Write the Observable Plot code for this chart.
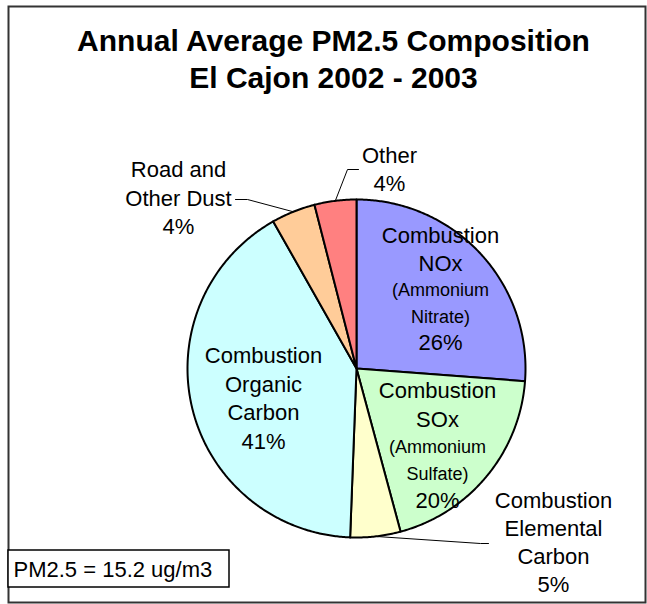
<!DOCTYPE html>
<html><head><meta charset="utf-8">
<script src="https://cdn.jsdelivr.net/npm/d3@7"></script>
<script src="https://cdn.jsdelivr.net/npm/@observablehq/plot@0.6"></script>
<style>
html,body{margin:0;padding:0;background:#fff}
#chart{width:647px;height:604px}
</style>
</head><body><div id="chart"></div>
<script>
// ---- data ----
const categories = ["Combustion NOx", "Combustion SOx", "Combustion Elemental Carbon", "Combustion Organic Carbon", "Road and Other Dust", "Other"];
const shares = [26.2, 19.6, 4.8, 41.2, 4.2, 4.0];
const percentLabels = ["26%", "20%", "5%", "41%", "4%", "4%"];
const sliceColors = ["#9999FF", "#CCFFCC", "#FFFFCC", "#CCFFFF", "#FFCC99", "#FF8080"];
const labelTexts = [
  ["Combustion", "NOx", "(Ammonium", "Nitrate)"],
  ["Combustion", "SOx", "(Ammonium", "Sulfate)"],
  ["Combustion", "Elemental", "Carbon"],
  ["Combustion", "Organic", "Carbon"],
  ["Road and", "Other Dust"],
  ["Other"]
];
const titleLines = ["Annual Average PM2.5 Composition", "El Cajon 2002 - 2003"];
const noteText = "PM2.5 = 15.2 ug/m3";

// ---- layout (pixels) ----
const W = 647, H = 604, CX = 356, CY = 368, R = 169;
const ux = px => (px - CX) / R;
const uy = py => (CY - py) / R;
const labelLayout = [
  {cx: 440, base: 242, offsets: [0, 28, 53, 80, 107], sizes: [22, 22, 18, 18, 22]},
  {cx: 437, base: 397, offsets: [0, 29, 55, 82, 110], sizes: [22, 22, 18, 18, 22]},
  {cx: 553, base: 507, offsets: [0, 28, 56, 84], sizes: [22, 22, 22, 22]},
  {cx: 263, base: 362, offsets: [0, 29, 57, 86], sizes: [22, 22, 22, 22]},
  {cx: 178, base: 176, offsets: [0, 29, 57], sizes: [22, 22, 22]},
  {cx: 389, base: 162, offsets: [0, 28], sizes: [22, 22]}
];
// leader lines: text-side points (pixels); final point is on the slice edge at mid-angle
const leaderLayout = [
  {slice: 2, pts: [[488, 543], [480, 543]]},
  {slice: 4, pts: [[235, 199], [247, 199]]},
  {slice: 5, pts: [[358, 169], [347, 169]]}
];

// ---- geometry ----
const rows = categories.map((name, i) => ({name, share: shares[i], color: sliceColors[i]}));
const arcs = d3.pie().sort(null).value(d => d.share)(rows);
const wedgePts = [];
arcs.forEach(a => {
  const name = a.data.name;
  wedgePts.push({name, x: 0, y: 0});
  const n = Math.max(2, Math.ceil((a.endAngle - a.startAngle) / (Math.PI / 360)));
  for (let k = 0; k <= n; k++) {
    const t = a.startAngle + (a.endAngle - a.startAngle) * k / n;
    wedgePts.push({name, x: Math.sin(t), y: Math.cos(t)});
  }
  wedgePts.push({name, x: 0, y: 0});
});

const leaderPts = [];
leaderLayout.forEach((L, j) => {
  L.pts.forEach(p => leaderPts.push({id: j, x: ux(p[0]), y: uy(p[1])}));
  const a = arcs[L.slice];
  const m = (a.startAngle + a.endAngle) / 2;
  leaderPts.push({id: j, x: Math.sin(m), y: Math.cos(m)});
});

const textRows = [];
labelLayout.forEach((L, i) => {
  const lines = [...labelTexts[i], percentLabels[i]];
  lines.forEach((t, k) => textRows.push({text: t, x: ux(L.cx), y: uy(L.base + L.offsets[k]), size: L.sizes[k]}));
});
const titleRows = titleLines.map((t, k) => ({text: t, x: ux(333), y: uy([50, 87][k])}));

const chart = Plot.plot({
  width: W, height: H,
  marginTop: 0, marginRight: 0, marginBottom: 0, marginLeft: 0,
  x: {domain: [ux(0), ux(W)], range: [0, W], axis: null},
  y: {domain: [uy(H), uy(0)], range: [H, 0], axis: null},
  color: {domain: categories, range: sliceColors},
  style: {fontFamily: "'Liberation Sans', Arial, sans-serif", background: "#fff", color: "#000"},
  marks: [
    Plot.frame({insetLeft: 8, insetTop: 6, insetRight: 2, insetBottom: 2, stroke: "#333", strokeWidth: 2}),
    Plot.line(wedgePts, {x: "x", y: "y", z: "name", fill: "name", stroke: "#000", strokeWidth: 2, strokeLinejoin: "round"}),
    Plot.line(leaderPts, {x: "x", y: "y", z: "id", stroke: "#000", strokeWidth: 1}),
    Plot.text(textRows, {x: "x", y: "y", text: "text", fontSize: "size", textAnchor: "middle", lineAnchor: "bottom", fill: "#000"}),
    Plot.text(titleRows, {x: "x", y: "y", text: "text", fontSize: 30, fontWeight: "bold", textAnchor: "middle", lineAnchor: "bottom", fill: "#000"}),
    Plot.rect([noteText], {x1: () => ux(8), x2: () => ux(229), y1: () => uy(550), y2: () => uy(587), fill: "#fff", stroke: "#000", strokeWidth: 1.5}),
    Plot.text([noteText], {x: () => ux(13), y: () => uy(576), text: d => d, fontSize: 22, textAnchor: "start", lineAnchor: "bottom", fill: "#000"})
  ]
});
document.getElementById("chart").appendChild(chart);
</script>
</body></html>
